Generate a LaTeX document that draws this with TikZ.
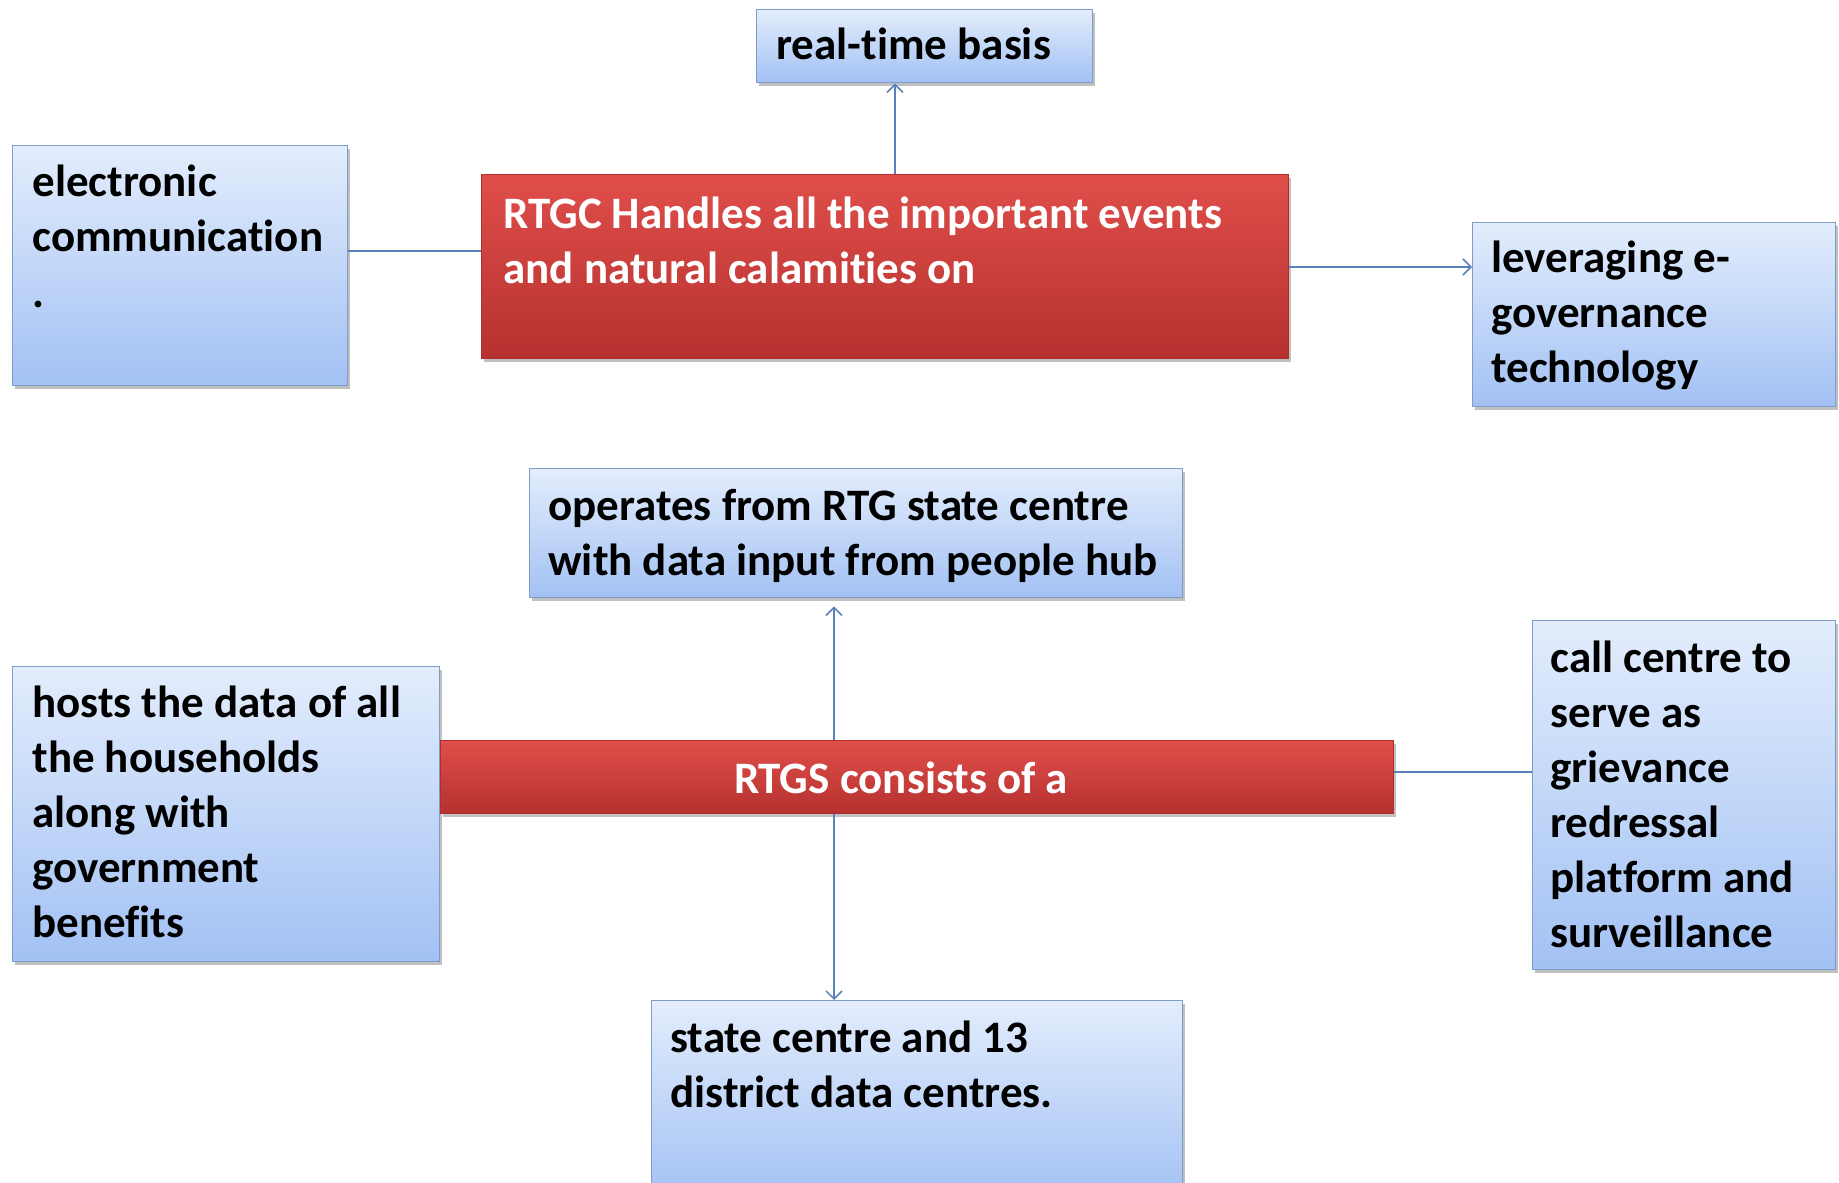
\documentclass[tikz,border=0pt]{standalone}
\usepackage{fontspec}
\setmainfont{Carlito}[Ligatures=NoCommon]
\usetikzlibrary{shadows,arrows.meta}
\definecolor{bluetop}{HTML}{E3EDFC}
\definecolor{bluebot}{HTML}{A2C1F4}
\definecolor{blueedge}{HTML}{7F9BC8}
\definecolor{redtop}{HTML}{E04E4A}
\definecolor{redmid}{HTML}{D33F3C}
\definecolor{redbot}{HTML}{B5312F}
\definecolor{rededge}{HTML}{AE2F2D}
\definecolor{linkcol}{HTML}{5A82BA}
\newcommand{\boxfont}{\fontsize{22.5}{27.5}\selectfont\bfseries}
\begin{document}
\begin{tikzpicture}[x=0.5pt,y=-0.5pt,
  boxshadow/.style={drop shadow={shadow xshift=1.2pt,shadow yshift=-1.5pt,opacity=0.35,fill=black!70}},
  bluebox/.style={draw=blueedge,line width=0.7pt,top color=bluetop,bottom color=bluebot,
    boxshadow,inner sep=0pt,anchor=north west},
  redbox/.style={draw=rededge,line width=0.7pt,top color=redtop,middle color=redmid,bottom color=redbot,
    boxshadow,inner sep=0pt,anchor=north west},
  txt/.style={font=\boxfont,text width=420pt,align=left,
    execute at begin node={\spaceskip=0pt\xspaceskip=0pt\relax},
    inner sep=0pt,anchor=base west,text=black},
  wtxt/.style={txt,text=white},
  link/.style={draw=linkcol,line width=0.75pt},
  arr/.style={link,-{Straight Barb[length=4pt,width=8pt,line width=0.75pt]}}
]
\useasboundingbox (0,0) rectangle (1839,1182);
\fill[white] (0,0) rectangle (1839,1182);

% boxes
\node[bluebox,minimum width=168pt,minimum height=36.5pt] (rtb) at (756,9) {};
\node[bluebox,minimum width=167.5pt,minimum height=120pt] (ec) at (12,145) {};
\node[redbox,minimum width=403.5pt,minimum height=92pt] (rtgc) at (481,174) {};
\node[bluebox,minimum width=181.5pt,minimum height=92pt] (lev) at (1472,222) {};
\node[bluebox,minimum width=326.5pt,minimum height=64.5pt] (ops) at (529,468) {};
\node[bluebox,minimum width=213.5pt,minimum height=147.5pt] (hosts) at (12,666) {};
\node[redbox,minimum width=476.5pt,minimum height=36.5pt] (rtgs) at (440,740) {};
\node[bluebox,minimum width=151.5pt,minimum height=174.5pt] (call) at (1532,620) {};
\node[bluebox,minimum width=265.5pt,minimum height=100pt] (st) at (651,1000) {};

% texts
\node[txt] (trtb) at (776,60) {real-time basis};
\node[txt] (tec) at (32,197) {electronic\\communication\\.};
\node[wtxt] (trtgc) at (503,228) {RTGC Handles all the important events\\and natural calamities on};
\node[txt] (tlev) at (1491,272) {leveraging e-\\governance\\technology};
\node[txt] (tops) at (548,520) {operates from RTG state centre\\with data input from people hub};
\node[txt] (thosts) at (32,717) {hosts the data of all\\the households\\along with\\government\\benefits};
\node[wtxt,text width=,anchor=base] (trtgs) at (901,793) {RTGS consists of a};
\node[txt] (tcall) at (1550,672) {call centre to\\serve as\\grievance\\redressal\\platform and\\surveillance};
\node[txt] (tst) at (670,1052) {state centre and 13\\district data centres.};

% connector guides
\coordinate (c1) at (895,0);
\coordinate (c2) at (0,251);
\coordinate (c3) at (0,267);
\coordinate (c4) at (834,0);
\coordinate (c5) at (0,772);

% connectors
\draw[arr] (rtgc.north -| c1) -- (rtb.south -| c1);
\draw[link] (ec.east |- c2) -- (rtgc.west |- c2);
\draw[arr] (rtgc.east |- c3) -- (lev.west |- c3);
\draw[arr,shorten >=4pt] (rtgs.north -| c4) -- (ops.south -| c4);
\draw[arr] (rtgs.south -| c4) -- (st.north -| c4);
\draw[link] (rtgs.east |- c5) -- (call.west |- c5);
\end{tikzpicture}
\end{document}
